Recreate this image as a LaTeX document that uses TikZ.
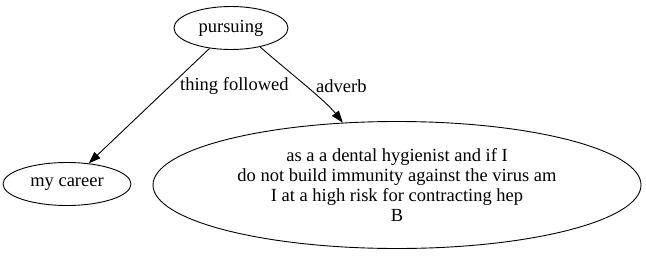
\documentclass[tikz,border=0pt]{standalone}
\usepackage{fontspec}
\setmainfont{Liberation Serif}
\usetikzlibrary{arrows.meta, shapes.geometric}

\begin{document}
\begin{tikzpicture}[x=1pt, y=-1pt, font=\fontsize{18.5}{20}\selectfont,
    word/.style={draw, ellipse, inner sep=0pt, line width=0.9pt},
    rel/.style={-{Triangle[length=12pt,width=8.5pt]}, line width=0.9pt},
    lab/.style={inner sep=1pt}]

% ---------------- frame
  \useasboundingbox (0,0) rectangle (646,255);

% ---------------- the words
  \node[word, minimum width=114, minimum height=43] (pursuing) at (231,28) {pursuing};
  \node[word, minimum width=128, minimum height=43] (career) at (67,184) {my career};
  \node[word, minimum width=488, minimum height=127, align=center] (hygienist) at (397,185)
    {as a a dental hygienist and if I\\
     do not build immunity against the virus am\\
     I at a high risk for contracting hep\\
     B};

% ---------------- the relations
  \draw[rel] (pursuing) -- (career);
  \node[lab, anchor=west] (followed) at (179,86) {thing followed};
  \draw[rel] (pursuing.-33) .. controls (285,69) and (325,100) .. (hygienist.131);
  \node[lab, anchor=west] (adverb) at (315,86) {adverb};
\end{tikzpicture}
\end{document}
